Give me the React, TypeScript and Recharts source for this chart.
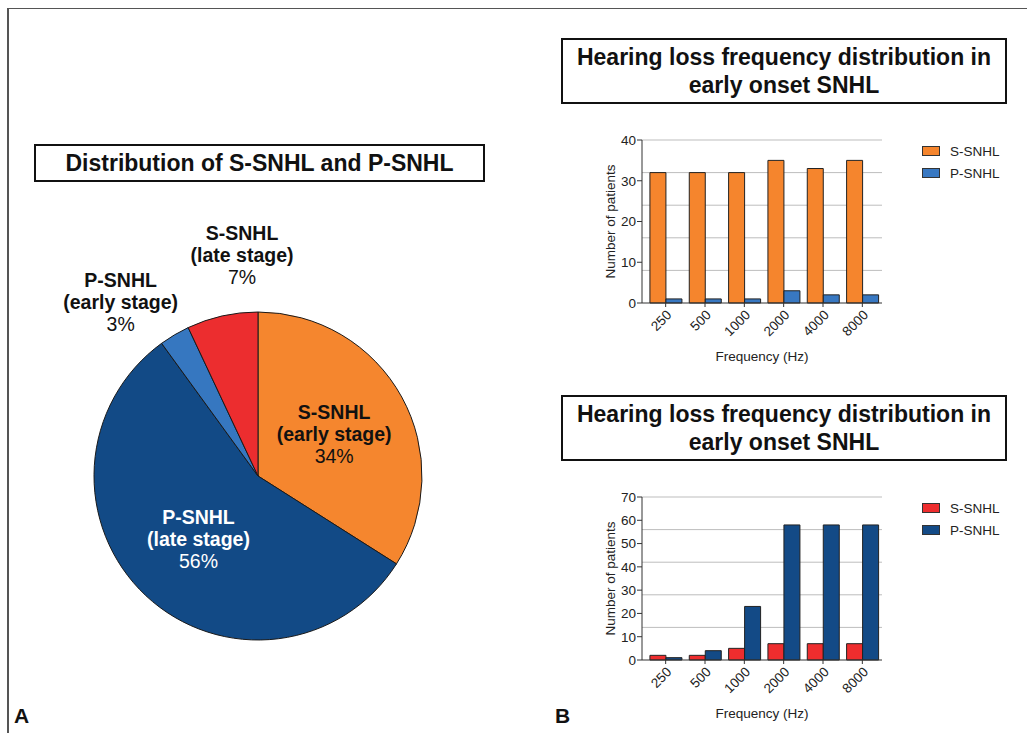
import React from 'react';
import {Bar, BarChart, CartesianGrid, Cell, Legend, Pie, PieChart, XAxis, YAxis} from 'recharts';

const FONT = '"Liberation Sans", Arial, Helvetica, sans-serif';

// panel A - share of each group
const pieGroups = ['S-SNHL', 'P-SNHL', 'P-SNHL', 'S-SNHL'];
const pieStages = ['(early stage)', '(late stage)', '(early stage)', '(late stage)'];
const pieShares = [34, 56, 3, 7];
const pieColors = ['#F5862E', '#124A86', '#3677C0', '#EC2D2F'];

// panel B - patients per frequency
const frequencies = ['250', '500', '1000', '2000', '4000', '8000'];
const seriesNames = ['S-SNHL', 'P-SNHL'];
const upperSSnhl = [32, 32, 32, 35, 33, 35];
const upperPSnhl = [1, 1, 1, 3, 2, 2];
const lowerSSnhl = [2, 2, 5, 7, 7, 7];
const lowerPSnhl = [1, 4, 23, 58, 58, 58];
const upperTicks = [0, 10, 20, 30, 40];
const upperGrid = [8, 16, 24, 32, 40];
const lowerTicks = [0, 10, 20, 30, 40, 50, 60, 70];
const lowerGrid = [14, 28, 42, 56, 70];

const panelTitle = ['Hearing loss frequency distribution in', 'early onset SNHL'];

const RAD = Math.PI / 180;
const axisText = {fill: '#222', fontSize: 13.5, fontFamily: FONT};

const renderPieLabel = (props: any) => {
    const {cx, cy, midAngle, outerRadius, index} = props;
    const share = pieShares[index];
    let angle = ((midAngle % 360) + 360) % 360;
    let r = outerRadius * 0.53;
    if (share < 20) {
        // small slices: label outside, pushed apart a bit
        angle = 112 + (angle - 112) * 1.9;
        r = outerRadius * 1.35;
    }
    const x = cx + r * Math.cos(angle * RAD);
    const y = cy - r * Math.sin(angle * RAD) + 7;
    const fill = index === 1 ? '#ffffff' : '#111111';
    return (
        <text x={x} y={y} textAnchor="middle" fontFamily={FONT} fontSize={19.5} fill={fill}>
            <tspan x={x} dy={-22} fontWeight="bold">{pieGroups[index]}</tspan>
            <tspan x={x} dy={22} fontWeight="bold">{pieStages[index]}</tspan>
            <tspan x={x} dy={22}>{share}%</tspan>
        </text>
    );
};

const LegendBox = (props: any) => {
    const items = [...(props.payload || [])].sort(
        (a: any, b: any) => seriesNames.indexOf(a.value) - seriesNames.indexOf(b.value));
    return (
        <div style={{fontFamily: FONT, fontSize: 13.5, color: '#222'}}>
            {items.map((item: any) => (
                <div key={item.value} style={{display: 'flex', alignItems: 'center', height: 22}}>
                    <span style={{
                        display: 'inline-block', width: 16, height: 8, background: item.color,
                        border: '1px solid #333', marginRight: 10,
                    }}/>
                    {item.value}
                </div>
            ))}
        </div>
    );
};

type PanelProps = {
    top: number;
    sValues: number[];
    pValues: number[];
    sColor: string;
    pColor: string;
    max: number;
    ticks: number[];
    grid: number[];
};

const FrequencyPanel = (props: PanelProps) => {
    const data = frequencies.map((f, i) => ({freq: f, s: props.sValues[i], p: props.pValues[i]}));
    return (
        <div style={{position: 'absolute', left: 580, top: props.top}}>
            <BarChart width={440} height={245} data={data}
                      margin={{top: 15, right: 138, bottom: 7, left: 0}}
                      barCategoryGap="10%" barGap={0}>
                <CartesianGrid vertical={false} horizontalValues={props.grid} stroke="#bdbdbd"/>
                <XAxis dataKey="freq" interval={0} height={60} padding={{left: 4, right: 0}}
                       stroke="#333" tickSize={4} angle={-45} textAnchor="end"
                       tick={axisText}
                       label={{value: 'Frequency (Hz)', position: 'insideBottom', offset: 2,
                           style: {...axisText, textAnchor: 'middle'}}}/>
                <YAxis domain={[0, props.max]} ticks={props.ticks} interval={0} width={62}
                       stroke="#333" tickSize={5} tickMargin={1}
                       tick={axisText}
                       label={{value: 'Number of patients', angle: -90, position: 'insideLeft', offset: 30,
                           style: {...axisText, textAnchor: 'middle'}}}/>
                <Legend layout="vertical" align="center" verticalAlign="middle"
                        wrapperStyle={{left: 342, top: 15, width: 90}}
                        content={(p: any) => <LegendBox payload={p.payload}/>}/>
                <Bar dataKey="s" name={seriesNames[0]} fill={props.sColor} stroke="#222" strokeWidth={1}
                     isAnimationActive={false}/>
                <Bar dataKey="p" name={seriesNames[1]} fill={props.pColor} stroke="#222" strokeWidth={1}
                     isAnimationActive={false}/>
            </BarChart>
        </div>
    );
};

const TitleBox = (props: {left: number; top: number; width: number; height: number; lines: string[]}) => (
    <div style={{
        position: 'absolute', left: props.left, top: props.top, width: props.width, height: props.height,
        boxSizing: 'border-box', border: '2.5px solid #111', display: 'flex', flexDirection: 'column',
        justifyContent: 'center', alignItems: 'center', fontFamily: FONT, fontWeight: 'bold',
        fontSize: 23, lineHeight: '28px', color: '#111',
    }}>
        {props.lines.map(l => <div key={l}>{l}</div>)}
    </div>
);

const App = () => {
    const pieData = pieShares.map((v, i) => ({name: pieGroups[i] + ' ' + pieStages[i], value: v}));
    return (
        <div style={{position: 'absolute', left: 0, top: 0, width: 1027, height: 733, background: '#fff',
            overflow: 'hidden', fontFamily: FONT}}>
            <div style={{position: 'absolute', left: 7, top: 7.5, width: 1020, height: 1.5, background: '#555'}}/>
            <div style={{position: 'absolute', left: 7, top: 7.5, width: 1.5, height: 726, background: '#555'}}/>

            <TitleBox left={34} top={144} width={451} height={38} lines={['Distribution of S-SNHL and P-SNHL']}/>
            <div style={{position: 'absolute', left: 0, top: 0}}>
                <PieChart width={540} height={733} margin={{top: 0, right: 0, bottom: 0, left: 0}}>
                    <Pie data={pieData} dataKey="value" cx={258} cy={476} outerRadius={164}
                         startAngle={90} endAngle={-270} stroke="#1a1a1a" strokeWidth={1}
                         label={renderPieLabel} labelLine={false} isAnimationActive={false}>
                        {pieData.map((d, i) => <Cell key={d.name + i} fill={pieColors[i]}/>)}
                    </Pie>
                </PieChart>
            </div>

            <TitleBox left={561} top={38} width={446} height={66} lines={panelTitle}/>
            <FrequencyPanel top={125} sValues={upperSSnhl} pValues={upperPSnhl} sColor="#F5852D"
                            pColor="#3878C2" max={40} ticks={upperTicks} grid={upperGrid}/>

            <TitleBox left={561} top={395} width={446} height={66} lines={panelTitle}/>
            <FrequencyPanel top={482} sValues={lowerSSnhl} pValues={lowerPSnhl} sColor="#EE2D2E"
                            pColor="#134A86" max={70} ticks={lowerTicks} grid={lowerGrid}/>

            <div style={{position: 'absolute', left: 14, top: 704, fontSize: 21, fontWeight: 'bold', color: '#111'}}>A</div>
            <div style={{position: 'absolute', left: 555, top: 704, fontSize: 21, fontWeight: 'bold', color: '#111'}}>B</div>
        </div>
    );
};

export default App;
